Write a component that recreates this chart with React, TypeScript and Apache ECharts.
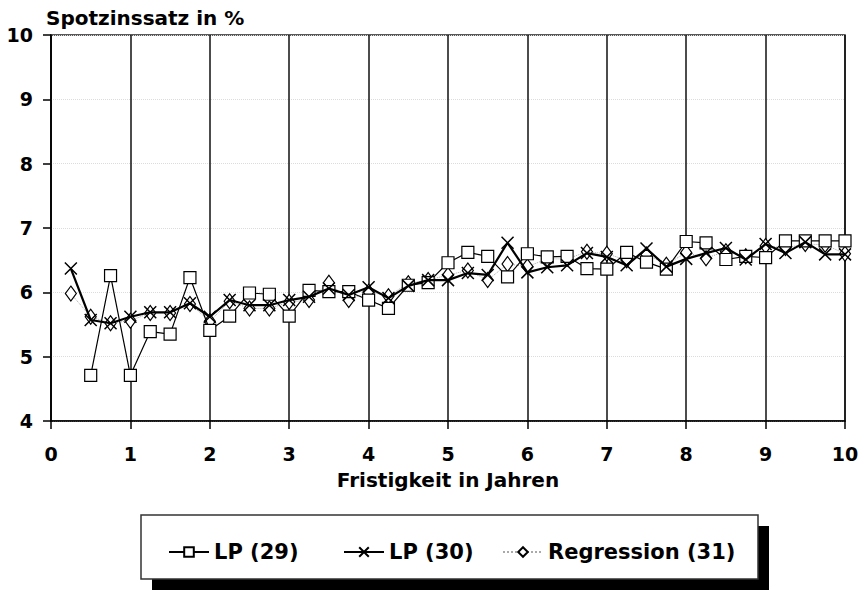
import React, { useEffect, useRef } from "react";
import * as echarts from "echarts";

const maturities = [0.25, 0.5, 0.75, 1, 1.25, 1.5, 1.75, 2, 2.25, 2.5, 2.75, 3, 3.25, 3.5, 3.75, 4, 4.25, 4.5, 4.75, 5, 5.25, 5.5, 5.75, 6, 6.25, 6.5, 6.75, 7, 7.25, 7.5, 7.75, 8, 8.25, 8.5, 8.75, 9, 9.25, 9.5, 9.75, 10];

const lp29 = [null, 4.71, 6.26, 4.71, 5.39, 5.35, 6.23, 5.41, 5.63, 5.99, 5.97, 5.63, 6.03, 6.01, 6.01, 5.88, 5.75, 6.11, 6.15, 6.46, 6.62, 6.56, 6.24, 6.6, 6.55, 6.56, 6.37, 6.36, 6.62, 6.47, 6.36, 6.79, 6.77, 6.51, 6.56, 6.54, 6.8, 6.8, 6.8, 6.8];

const lp30 = [6.37, 5.57, 5.52, 5.62, 5.69, 5.69, 5.83, 5.62, 5.88, 5.8, 5.8, 5.88, 5.93, 6.06, 5.96, 6.08, 5.91, 6.1, 6.19, 6.19, 6.3, 6.27, 6.77, 6.31, 6.39, 6.42, 6.61, 6.55, 6.42, 6.68, 6.4, 6.52, 6.61, 6.69, 6.51, 6.75, 6.61, 6.78, 6.59, 6.59];

const regression = [5.98, 5.62, 5.52, 5.56, 5.68, 5.68, 5.82, 5.55, 5.86, 5.75, 5.75, 5.85, 5.88, 6.15, 5.88, 6.01, 5.94, 6.14, 6.19, 6.27, 6.34, 6.19, 6.44, 6.4, 6.52, 6.52, 6.63, 6.6, 6.5, 6.59, 6.43, 6.62, 6.53, 6.64, 6.56, 6.72, 6.69, 6.75, 6.74, 6.6];

const seriesNames = ["LP (29)", "LP (30)", "Regression (31)"];
const yAxisTitle = "Spotzinssatz in %";
const xAxisTitle = "Fristigkeit in Jahren";

const FONT = "'DejaVu Sans', sans-serif";

function pairs(vals: (number | null)[]) {
  return maturities.map((m, i) => [m, vals[i] === null ? "-" : vals[i]]);
}

export default function App() {
  const ref = useRef<HTMLDivElement>(null);
  useEffect(() => {
    if (!ref.current) return;
    const chart = echarts.init(ref.current, null, { renderer: "svg" });
    const legendText = { fontFamily: FONT, fontWeight: "bold", fontSize: 21, color: "#000", lineHeight: 24 };
    const legendBase = { top: 535, itemWidth: 40, itemHeight: 12, textStyle: legendText, z: 10, selectedMode: false };
    chart.setOption({
      animation: false,
      backgroundColor: "#fff",
      grid: { left: 51, right: 18, top: 35, bottom: 169, show: true, borderColor: "#222", borderWidth: 1.5, backgroundColor: "transparent" },
      graphic: [
        { type: "text", left: 46, top: 8, style: { text: yAxisTitle, font: `bold 20px ${FONT}`, fill: "#000" } },
        { type: "rect", z: 1, shape: { x: 152, y: 526, width: 617, height: 64 }, style: { fill: "#000" } },
        { type: "rect", z: 2, shape: { x: 141, y: 515, width: 617, height: 64 }, style: { fill: "#fff", stroke: "#333", lineWidth: 1.5 } },
      ],
      legend: [
        { ...legendBase, left: 163, data: [seriesNames[0]] },
        { ...legendBase, left: 338, data: [seriesNames[1]] },
        { ...legendBase, left: 497, data: [seriesNames[2]] },
      ],
      xAxis: {
        type: "value",
        min: 0,
        max: 10,
        interval: 1,
        name: xAxisTitle,
        nameLocation: "middle",
        nameGap: 49,
        nameTextStyle: { fontFamily: FONT, fontWeight: "bold", fontSize: 20, color: "#000" },
        axisLine: { lineStyle: { color: "#000", width: 1.5 } },
        axisTick: { show: true, length: 8, lineStyle: { color: "#000", width: 1.5 } },
        axisLabel: { margin: 23, fontFamily: FONT, fontWeight: "bold", fontSize: 19, color: "#000" },
        splitLine: { show: true, lineStyle: { color: "#111", width: 1.5 } },
      },
      yAxis: {
        type: "value",
        min: 4,
        max: 10,
        interval: 1,
        axisLine: { show: true, lineStyle: { color: "#000", width: 1.5 } },
        axisTick: { show: true, length: 8, lineStyle: { color: "#000", width: 1.5 } },
        axisLabel: { margin: 18, fontFamily: FONT, fontWeight: "bold", fontSize: 19, color: "#000" },
        splitLine: { show: true, lineStyle: { color: "#dcdcdc", width: 1, type: "dotted" } },
      },
      series: [
        {
          name: seriesNames[2],
          type: "line",
          data: pairs(regression),
          symbol: "diamond",
          symbolSize: [11, 15],
          lineStyle: { color: "#aaa", width: 1, type: "dotted" },
          itemStyle: { color: "#fff", borderColor: "#000", borderWidth: 1.2 },
          z: 2,
        },
        {
          name: seriesNames[0],
          type: "line",
          data: pairs(lp29),
          connectNulls: false,
          symbol: "rect",
          symbolSize: 12,
          lineStyle: { color: "#000", width: 1.2 },
          itemStyle: { color: "#fff", borderColor: "#000", borderWidth: 1.2 },
          z: 3,
        },
        {
          name: seriesNames[1],
          type: "line",
          data: pairs(lp30),
          symbol: "path://M0,0L10,10M10,0L0,10",
          symbolSize: 12,
          lineStyle: { color: "#000", width: 2.2 },
          itemStyle: { color: "none", borderColor: "#000", borderWidth: 1.5 },
          z: 4,
        },
      ],
    });
    return () => chart.dispose();
  }, []);
  return <div ref={ref} style={{ position: "fixed", left: 0, top: 0, width: 863, height: 590 }} />;
}
